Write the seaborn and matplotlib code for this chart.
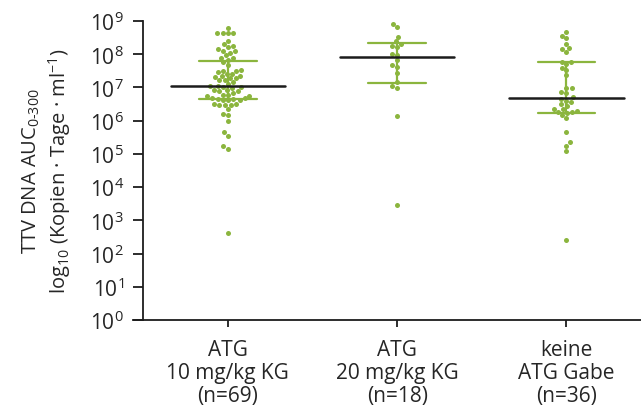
import numpy as np
import pandas as pd
import matplotlib
matplotlib.use("Agg")
import matplotlib.pyplot as plt
import seaborn as sns
from matplotlib.ticker import NullLocator

# ---- data (log10 values) ----
categories = ["ATG\n10 mg/kg KG\n(n=69)", "ATG\n20 mg/kg KG\n(n=18)", "keine\nATG Gabe\n(n=36)"]

atg10_log = [8.80, 8.64, 8.64, 8.63, 8.63, 8.39, 8.32, 8.25, 8.23, 8.17, 8.10, 8.10, 8.05, 7.97,
             7.89, 7.89, 7.84,
             7.76, 7.69, 7.52, 7.50, 7.50, 7.45, 7.40, 7.40, 7.35, 7.35, 7.30, 7.27, 7.27, 7.22,
             7.22, 7.15, 7.10, 7.04, 7.03, 7.00, 7.00, 6.99, 6.93, 6.93, 6.88, 6.88, 6.83, 6.78,
             6.78, 6.73, 6.73, 6.68, 6.68, 6.65, 6.65,
             6.61, 6.61, 6.61, 6.51, 6.51, 6.46, 6.46, 6.46, 6.34, 6.21, 6.17, 5.98, 5.65, 5.54,
             5.24, 5.16, 2.61]
atg20_log = [8.92, 8.83, 8.53, 8.39, 8.32, 8.26, 8.22, 8.00, 7.99, 7.83, 7.69, 7.63, 7.44,
             7.16, 7.03, 6.98, 6.15, 3.45]
keine_log = [8.67, 8.56, 8.48, 8.31, 8.20, 8.15, 8.07, 7.77, 7.77, 7.71, 7.60, 7.54, 7.38,
             6.99, 6.99, 6.86, 6.82, 6.70, 6.66, 6.60, 6.56, 6.49, 6.45, 6.36, 6.35, 6.30,
             6.27, 6.27, 6.24, 6.17, 6.08, 5.65, 5.35, 5.25, 5.10, 2.40]

median_log = [7.03, 7.91, 6.68]
q1_log = [6.66, 7.12, 6.24]
q3_log = [7.79, 8.35, 7.77]

ytick_exp = list(range(0, 10))

# ---- style ----
green = "#8BB53E"
dark = "#1c1c1c"
sns.set_style("ticks")
plt.rcParams["font.family"] = ["Open Sans", "DejaVu Sans"]
plt.rcParams["mathtext.fontset"] = "custom"
plt.rcParams["mathtext.rm"] = "Open Sans"
plt.rcParams["mathtext.it"] = "Open Sans:italic"
plt.rcParams["mathtext.bf"] = "Open Sans:bold"

groups = [atg10_log, atg20_log, keine_log]
df = pd.DataFrame({
    "group": np.concatenate([[c] * len(g) for c, g in zip(categories, groups)]),
    "value": np.concatenate([np.power(10.0, g) for g in groups]),
})

fig = plt.figure(figsize=(6.41, 4.14), dpi=100)
ax = fig.add_axes([133 / 641, 1 - 321 / 414, 1 - 133 / 641, (321 - 22) / 414])
ax.set_yscale("log")
ax.set_ylim(1, 1e9)

sns.swarmplot(data=df, x="group", y="value", order=categories, color=green,
              size=3.6, linewidth=0, ax=ax, zorder=2)

ax.set_xlim(-0.56, 2.44)
ax.set_ylim(1, 1e9)

for i in range(3):
    med, lo, hi = 10 ** median_log[i], 10 ** q1_log[i], 10 ** q3_log[i]
    ax.plot([i, i], [lo, hi], color=green, lw=1.6, zorder=3, solid_capstyle="butt")
    ax.plot([i - 0.17, i + 0.17], [lo, lo], color=green, lw=1.6, zorder=3)
    ax.plot([i - 0.17, i + 0.17], [hi, hi], color=green, lw=1.6, zorder=3)
    ax.plot([i - 0.337, i + 0.337], [med, med], color=dark, lw=1.8, zorder=4)

# axes styling
for s in ["top", "right"]:
    ax.spines[s].set_visible(False)
ax.spines["left"].set_position(("data", -0.5))
ax.spines["left"].set_linewidth(1.3)
ax.spines["bottom"].set_linewidth(1.3)
ax.spines["left"].set_color(dark)
ax.spines["bottom"].set_color(dark)

ax.set_yticks([10.0 ** e for e in ytick_exp])
ax.set_yticklabels([r"$\mathdefault{10^{%d}}$" % e for e in ytick_exp])
ax.yaxis.set_minor_locator(NullLocator())
ax.tick_params(axis="y", length=7, width=1.3, color=dark, labelsize=15, pad=7)
ax.tick_params(axis="x", length=5, width=1.3, color=dark, labelsize=15, pad=9)
for lab in ax.get_xticklabels():
    lab.set_linespacing(1.12)

ax.set_xlabel("")
ax.set_ylabel("TTV DNA AUC$_{\\mathdefault{0\\text{-}300}}$\n"
              "log$_{\\mathdefault{10}}$ (Kopien · Tage · ml$^{\\mathdefault{-1}}$)",
              fontsize=14.5, linespacing=1.2, labelpad=12)

fig.savefig("out.png", dpi=100)
